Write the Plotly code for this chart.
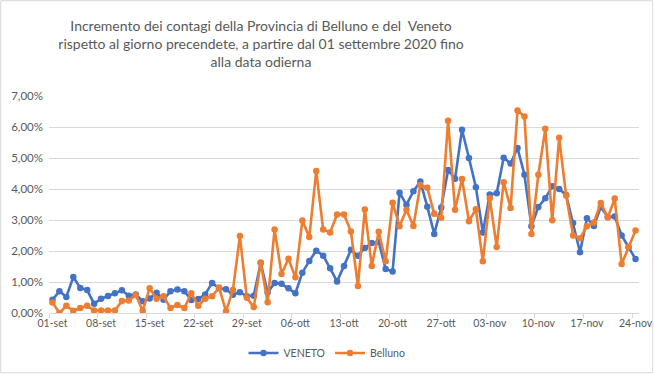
import plotly.graph_objects as go
import pandas as pd

# Categories: one point per day, 01-set-2020 .. 24-nov-2020
dates = pd.date_range("2020-09-01", "2020-11-24", freq="D")

# Daily increase of infections (%)
veneto = [0.43, 0.70, 0.52, 1.16, 0.81, 0.74, 0.30, 0.46, 0.55, 0.64,
          0.73, 0.56, 0.60, 0.38, 0.47, 0.65, 0.43, 0.70, 0.76, 0.70,
          0.42, 0.45, 0.60, 0.97, 0.80, 0.77, 0.59, 0.67, 0.54, 0.56,
          1.62, 0.66, 0.97, 0.94, 0.80, 0.64, 1.30, 1.68, 2.01, 1.85,
          1.44, 1.02, 1.52, 2.04, 1.85, 2.10, 2.26, 2.29, 1.42, 1.34,
          3.88, 3.49, 3.93, 4.24, 3.43, 2.55, 3.40, 4.61, 4.33, 5.91,
          5.00, 4.06, 2.60, 3.82, 3.86, 5.01, 4.82, 5.32, 4.46, 2.80,
          3.42, 3.70, 4.09, 4.00, 3.81, 2.90, 1.96, 3.06, 2.81, 3.42,
          3.10, 3.11, 2.50, 2.12, 1.74]

belluno = [0.34, 0.00, 0.23, 0.07, 0.16, 0.23, 0.08, 0.08, 0.08, 0.08,
           0.39, 0.40, 0.58, 0.07, 0.80, 0.46, 0.54, 0.16, 0.26, 0.16,
           0.64, 0.23, 0.46, 0.54, 0.82, 0.06, 0.74, 2.48, 0.49, 0.19,
           1.62, 0.35, 2.69, 1.26, 1.75, 1.15, 2.98, 2.45, 4.58, 2.69,
           2.60, 3.18, 3.18, 2.63, 0.87, 3.34, 1.52, 2.62, 1.67, 3.56,
           2.80, 3.33, 2.81, 4.13, 4.04, 3.20, 3.07, 6.20, 3.33, 4.32,
           2.96, 3.35, 1.67, 3.70, 2.13, 4.22, 3.39, 6.53, 6.34, 2.55,
           4.46, 5.94, 2.99, 5.65, 3.79, 2.50, 2.41, 2.80, 2.92, 3.55,
           3.08, 3.69, 1.58, 2.14, 2.66]

tick_labels = ["01-set", "08-set", "15-set", "22-set", "29-set", "06-ott",
               "13-ott", "20-ott", "27-ott", "03-nov", "10-nov", "17-nov",
               "24-nov"]
tick_dates = pd.date_range("2020-09-01", periods=len(tick_labels), freq="7D")
tick_marks = tick_dates - pd.Timedelta(hours=12)

FONT = "Lato, Liberation Sans, sans-serif"
TXT = "#595959"
GRID = "#D9D9D9"

fig = go.Figure()
fig.add_trace(go.Scatter(
    x=dates, y=[v / 100 for v in veneto], name="VENETO",
    mode="lines+markers",
    line=dict(color="#4472C4", width=2.6),
    marker=dict(color="#4472C4", size=6.5),
))
fig.add_trace(go.Scatter(
    x=dates, y=[v / 100 for v in belluno], name="Belluno",
    mode="lines+markers",
    line=dict(color="#ED7D31", width=2.6),
    marker=dict(color="#ED7D31", size=6.5),
))

L, R, T, B = 49, 15, 96, 62
W, H = 654, 375
pw, ph = W - L - R, H - T - B

fig.update_layout(
    width=W, height=H,
    margin=dict(l=L, r=R, t=T, b=B, autoexpand=False),
    paper_bgcolor="white", plot_bgcolor="white",
    separators=",.",
    font=dict(family=FONT, size=11, color=TXT),
    title=dict(
        text="Incremento dei contagi della Provincia di Belluno e del  Veneto<br>"
             "rispetto al giorno precendete, a partire dal 01 settembre 2020 fino<br>"
             "alla data odierna",
        x=261 / W, xref="container", xanchor="center",
        y=1 - 31 / H, yref="container", yanchor="top",
        font=dict(family=FONT, size=14, color=TXT),
    ),
    legend=dict(
        orientation="h", x=0.5, xref="container", xanchor="center",
        y=1 - 353 / H, yref="container", yanchor="middle",
        font=dict(family=FONT, size=10.5, color=TXT),
        itemwidth=30,
    ),
    showlegend=True,
    xaxis=dict(
        range=[dates[0] - pd.Timedelta(hours=12), dates[-1] + pd.Timedelta(hours=12)],
        tickmode="array", tickvals=tick_dates, ticktext=tick_labels,
        ticks="", showgrid=False, zeroline=False, automargin=False,
        showline=True, linecolor=GRID, linewidth=1,
        minor=dict(tickmode="array", tickvals=tick_marks, ticks="outside",
                   ticklen=4, tickcolor=GRID, tickwidth=1, showgrid=False),
        tickfont=dict(family=FONT, size=10.5, color=TXT),
    ),
    yaxis=dict(
        range=[0, 0.07], tickmode="linear", tick0=0, dtick=0.01,
        tickformat=".2%", showgrid=True, gridcolor=GRID, gridwidth=1,
        zeroline=False, showline=False, ticks="", automargin=False,
        ticklabelstandoff=5,
        tickfont=dict(family=FONT, size=11.5, color=TXT),
    ),
    shapes=[dict(
        type="rect", xref="paper", yref="paper",
        x0=(0.7 - L) / pw, x1=(652.7 - L) / pw,
        y0=(H - B - 372.7) / ph, y1=(H - B - 0.7) / ph,
        line=dict(color=GRID, width=1), fillcolor="rgba(0,0,0,0)", layer="below",
    )],
)

fig.write_html("out.html", config={"displayModeBar": False},
               post_script="document.body.style.margin='0';")
